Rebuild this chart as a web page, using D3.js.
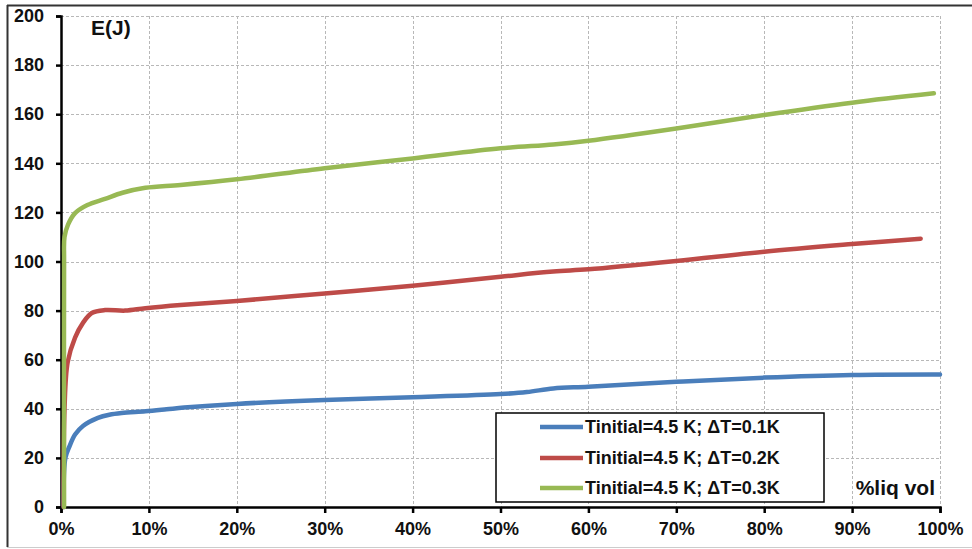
<!DOCTYPE html>
<html>
<head>
<meta charset="utf-8">
<script src="https://cdn.jsdelivr.net/npm/d3@7"></script>
<style>
  html, body { margin: 0; padding: 0; background: #fff; }
  svg { display: block; }
  text { font-family: "Liberation Sans", Arial, sans-serif; font-weight: bold; fill: #111; }
</style>
</head>
<body>
<svg id="chart" width="972" height="549"></svg>
<script>
// ---- data ----
const xTicks = [0, 10, 20, 30, 40, 50, 60, 70, 80, 90, 100];
const xTickLabels = ["0%", "10%", "20%", "30%", "40%", "50%", "60%", "70%", "80%", "90%", "100%"];
const yTicks = [0, 20, 40, 60, 80, 100, 120, 140, 160, 180, 200];

const seriesNames = ["Tinitial=4.5 K; \u0394T=0.1K", "Tinitial=4.5 K; \u0394T=0.2K", "Tinitial=4.5 K; \u0394T=0.3K"];
const seriesColors = ["#4a7ebb", "#be4b48", "#98b954"];

const blueX = [0.3, 0.5, 1.0, 1.6, 2.5, 4.2, 5.5, 6.9, 9.6, 12, 14, 20, 30, 40, 50, 53, 56, 60, 70, 80, 90, 100];
const blueY = [0, 20, 25, 29.5, 33, 36.3, 37.6, 38.3, 39, 39.8, 40.5, 42, 43.6, 44.7, 46, 46.8, 48.3, 49, 51, 52.7, 53.8, 54];

const redX = [0.3, 0.4, 0.76, 1.6, 2.5, 3.5, 5, 7.3, 9.6, 13.6, 20, 30, 40, 50, 56, 60, 70, 80, 90, 97.8];
const redY = [0, 40, 59, 69, 75, 79, 80.2, 80, 81, 82.3, 83.9, 87, 90.1, 93.8, 95.9, 96.8, 100.2, 104, 107.1, 109.3];

const greenX = [0.35, 0.35, 0.4, 0.8, 1.6, 3, 5, 7, 9.6, 13.6, 20, 30, 40, 50, 56, 60, 70, 80, 90, 99.3];
const greenY = [0, 100, 110, 115, 119.7, 123, 125.5, 128, 130, 131.2, 133.5, 138, 142, 146.1, 147.7, 149.2, 154.2, 159.7, 164.7, 168.5];

const seriesX = [blueX, redX, greenX];
const seriesY = [blueY, redY, greenY];

// ---- layout ----
const svg = d3.select("#chart");
const x = d3.scaleLinear().domain([0, 100]).range([61, 940]);
const y = d3.scaleLinear().domain([0, 200]).range([507, 16]);

// outer frame
svg.append("line").attr("x1", 7).attr("x2", 972).attr("y1", 5.5).attr("y2", 5.5).attr("stroke", "#333").attr("stroke-width", 2);
svg.append("line").attr("x1", 7.5).attr("x2", 7.5).attr("y1", 5).attr("y2", 547).attr("stroke", "#333").attr("stroke-width", 2);
svg.append("line").attr("x1", 7).attr("x2", 972).attr("y1", 547.5).attr("y2", 547.5).attr("stroke", "#ccc").attr("stroke-width", 1);

// gridlines
const grid = svg.append("g");
grid.selectAll("line.h").data(yTicks.filter(d => d > 0)).join("line")
  .attr("x1", x(0)).attr("x2", x(100))
  .attr("y1", d => Math.round(y(d)) + 0.5).attr("y2", d => Math.round(y(d)) + 0.5)
  .attr("stroke", "#b8b8b8").attr("stroke-width", 1).attr("stroke-dasharray", "3,2");
grid.selectAll("line.v").data(xTicks.filter(d => d > 0)).join("line")
  .attr("x1", d => Math.round(x(d)) + 0.5).attr("x2", d => Math.round(x(d)) + 0.5)
  .attr("y1", y(200)).attr("y2", y(0))
  .attr("stroke", "#b8b8b8").attr("stroke-width", 1).attr("stroke-dasharray", "3,2");

// axes
const yAxis = d3.axisLeft(y).tickValues(yTicks).tickSize(5).tickPadding(12).tickFormat(d3.format("d"));
const gy = svg.append("g").attr("transform", `translate(${x(0)},0)`).call(yAxis);
gy.select(".domain").attr("stroke", "#000").attr("stroke-width", 2.5);
gy.selectAll(".tick line").attr("stroke", "#000").attr("stroke-width", 2.5);
gy.selectAll(".tick text").attr("font-size", 18).attr("font-weight", "bold")
  .attr("font-family", "'Liberation Sans', Arial, sans-serif").attr("fill", "#111");

const xAxis = d3.axisBottom(x).tickValues(xTicks).tickSize(6).tickPadding(9)
  .tickFormat((d, i) => xTickLabels[i]);
const gx = svg.append("g").attr("transform", `translate(0,${y(0)})`).call(xAxis);
gx.select(".domain").attr("stroke", "#000").attr("stroke-width", 2.5);
gx.selectAll(".tick line").attr("stroke", "#000").attr("stroke-width", 2.5);
gx.selectAll(".tick text").attr("font-size", 18).attr("font-weight", "bold")
  .attr("font-family", "'Liberation Sans', Arial, sans-serif").attr("fill", "#111");

// series lines
const line = d3.line().x(d => x(d[0])).y(d => y(d[1])).curve(d3.curveCatmullRom.alpha(0.5));
seriesX.forEach((xs, i) => {
  const pts = xs.map((v, j) => [v, seriesY[i][j]]);
  svg.append("path").datum(pts).attr("d", line)
    .attr("fill", "none").attr("stroke", seriesColors[i]).attr("stroke-width", 4.5)
    .attr("stroke-linejoin", "round").attr("stroke-linecap", "round");
});

// axis titles
svg.append("text").attr("x", 91).attr("y", 35).attr("font-size", 21).text("E(J)");
svg.append("text").attr("x", 935).attr("y", 495).attr("font-size", 21).attr("text-anchor", "end").text("%liq vol");

// legend
const lg = svg.append("g");
lg.append("rect").attr("x", 496).attr("y", 413).attr("width", 328).attr("height", 89)
  .attr("fill", "#fff").attr("stroke", "#000").attr("stroke-width", 1.5);
const rowY = [427, 458, 488];
seriesNames.forEach((name, i) => {
  lg.append("line").attr("x1", 540).attr("x2", 583).attr("y1", rowY[i]).attr("y2", rowY[i])
    .attr("stroke", seriesColors[i]).attr("stroke-width", 4.5);
  lg.append("text").attr("x", 585).attr("y", rowY[i]).attr("dy", "0.35em").attr("font-size", 18).text(name);
});
</script>
</body>
</html>
